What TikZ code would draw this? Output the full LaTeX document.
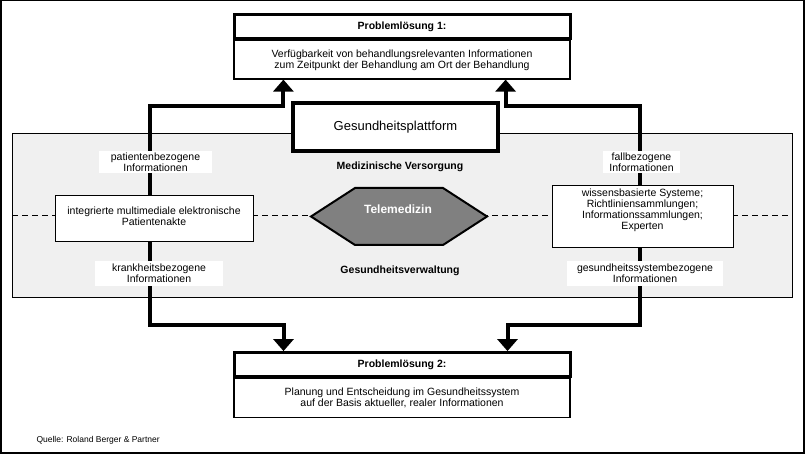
\documentclass[tikz,border=0pt]{standalone}
\usepackage{fontspec}
\setmainfont{Liberation Sans}
\usetikzlibrary{positioning,arrows.meta}
\tikzset{>={Triangle[width=20pt,length=12pt]}}
\definecolor{bandgrau}{RGB}{240,240,240}
\definecolor{telegrau}{RGB}{128,128,128}
\tikzstyle{kopf} = [draw=black, line width=3pt, fill=white, rectangle, align=center, minimum width=336pt, minimum height=24pt, font=\fontsize{10.5}{11}\selectfont\bfseries]
\tikzstyle{rumpf} = [draw=black, line width=1.2pt, fill=white, rectangle, align=center, minimum width=336pt, font=\fontsize{10.5}{11}\selectfont]
\tikzstyle{block} = [draw=black, line width=1pt, fill=white, rectangle, align=center, font=\fontsize{10.5}{11}\selectfont]
\tikzstyle{infolabel} = [fill=white, rectangle, align=center, inner sep=0pt, font=\fontsize{10.5}{11}\selectfont]
\tikzstyle{ebene} = [font=\fontsize{10.5}{11}\selectfont\bfseries]
\tikzstyle{conn} = [line width=4pt]

\begin{document}
\begin{tikzpicture}[x=1pt,y=-1pt]

    \useasboundingbox (0,0) rectangle (805,454);
    \draw[line width=1.5pt] (0.75,0.75) rectangle (804,453);

    \node[draw=black, line width=0.8pt, fill=bandgrau, minimum width=780pt, minimum height=164pt, outer sep=0pt] (band) at (402,215) {};
    \draw[dash pattern=on 6pt off 4pt, line width=0.8pt] (band.west) -- (band.east);

    \draw[line width=2pt, fill=telegrau] (311,216.5) -- (355,188) -- (443,188) -- (487,216.5) -- (443,245) -- (355,245) -- cycle;
    \node[text=white, font=\fontsize{12}{14}\selectfont\bfseries] (tele) at (398,209) {Telemedizin};

    \node[ebene] (versorgung) at (400,167) {Medizinische Versorgung};
    \node[ebene] (verwaltung) at (400,271) {Gesundheitsverwaltung};

    \node[block, minimum width=198pt, minimum height=46pt] (akte) at (154,219) {integrierte multimediale elektronische\\Patientenakte\\[-6pt]\mbox{}};
    \node[block, minimum width=181pt, minimum height=59pt] (wissen) at (642.5,216.5) {wissensbasierte Systeme;\\Richtliniensammlungen;\\Informationssammlungen;\\Experten\\[3pt]\mbox{}};

    \node[draw=black, line width=4pt, fill=white, minimum width=205pt, minimum height=48pt, font=\fontsize{13}{15}\selectfont] (plattform) at (395.5,127) {Gesundheitsplattform};

    \node[kopf] (pl1kopf) at (402,26.5) {Problemlösung 1:};
    \node[rumpf, minimum height=38.4pt, below=0pt of pl1kopf] (pl1) {Verfügbarkeit von behandlungsrelevanten Informationen\\zum Zeitpunkt der Behandlung am Ort der Behandlung};

    \node[kopf] (pl2kopf) at (402,364.6) {Problemlösung 2:};
    \node[rumpf, minimum height=38.4pt, below=0pt of pl2kopf] (pl2) {Planung und Entscheidung im Gesundheitssystem\\auf der Basis aktueller, realer Informationen};

    \coordinate (obenL) at (150,106);
    \coordinate (obenR) at (640,106);
    \coordinate (untenL) at (150,325);
    \coordinate (untenR) at (640,325);

    \draw[conn,->] (akte.north -| obenL) -- (obenL) -| ([xshift=50pt]pl1.south west);
    \draw[conn,->] (wissen.north -| obenR) -- (obenR) -| ([xshift=-65pt]pl1.south east);
    \draw[conn,->] (akte.south -| untenL) -- (untenL) -| ([xshift=51pt]pl2kopf.north west);
    \draw[conn,->] (wissen.south -| untenR) -- (untenR) -| ([xshift=-64pt]pl2kopf.north east);

    \node[infolabel, minimum width=113pt, minimum height=22pt] (patinfo) at (155.5,162) {patientenbezogene\\Informationen};
    \node[infolabel, minimum width=77pt, minimum height=22pt] (fallinfo) at (641.5,162) {fallbezogene\\Informationen};
    \node[infolabel, minimum width=128pt, minimum height=25pt] (krankinfo) at (159,273.5) {krankheitsbezogene\\Informationen};
    \node[infolabel, minimum width=156pt, minimum height=25pt] (gesinfo) at (645,273.5) {gesundheitssystembezogene\\Informationen};

    \node[anchor=west, font=\fontsize{8.5}{10}\selectfont] (quelle) at (33,440) {Quelle: Roland Berger \& Partner};

\end{tikzpicture}
\end{document}
